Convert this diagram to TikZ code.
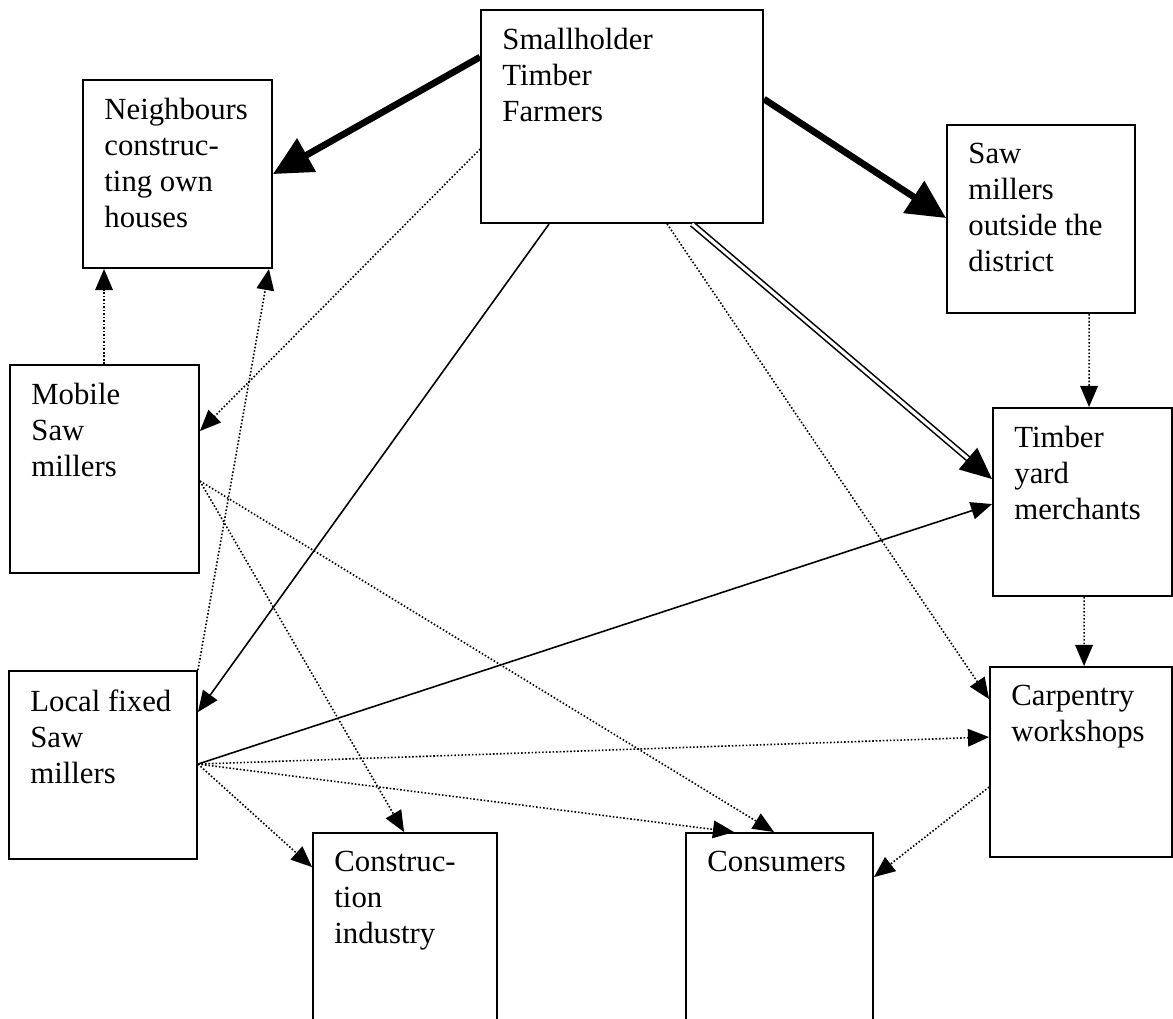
\documentclass[tikz,border=0pt]{standalone}
\usepackage{fontspec}
\setmainfont{Liberation Serif}
\usetikzlibrary{arrows.meta, calc}

\begin{document}
\begin{tikzpicture}[
  x=0.02cm, y=-0.02cm,
  box/.style={draw, line width=1.1pt, inner sep=0pt},
  txt/.style={anchor=north west, inner sep=0pt, align=left,
              font=\fontsize{17.5}{20.5}\selectfont},
  arr/.style={-{Triangle[length=12pt, width=10pt]}, line width=0.9pt},
  dots/.style={arr, dash pattern=on 0.9pt off 1.1pt},
  heavy/.style={-{Triangle[length=22pt, width=21pt]}, line width=3.8pt},
  dbl/.style={double, double distance=1.8pt, line width=0.9pt, shorten >=15pt},
  dbltip/.style={-{Triangle[length=18pt, width=16pt]}, line width=0.9pt},
]
  \useasboundingbox (0,0) rectangle (1173,1018);
  \clip (0,0) rectangle (1173,1018);

  %% ── Boxes ──
  \node[box, minimum width=5.64cm, minimum height=4.26cm] (farmers)      at (622, 116.5) {};
  \node[box, minimum width=3.78cm, minimum height=3.76cm] (neighbours)   at (177.5, 174) {};
  \node[box, minimum width=3.76cm, minimum height=3.76cm] (outside)      at (1041, 219) {};
  \node[box, minimum width=3.78cm, minimum height=4.16cm] (mobile)       at (104.5, 469) {};
  \node[box, minimum width=3.58cm, minimum height=3.76cm] (yard)         at (1082.5, 502) {};
  \node[box, minimum width=3.76cm, minimum height=3.76cm] (localmill)    at (103, 765) {};
  \node[box, minimum width=3.64cm, minimum height=3.80cm] (carpentry)    at (1081, 762) {};
  \node[box, minimum width=3.68cm, minimum height=4.14cm] (construction) at (405, 936.5) {};
  \node[box, minimum width=3.74cm, minimum height=4.14cm] (consumers)    at (779.5, 936.5) {};

  %% ── Box texts (top left) ──
  \node[txt] (farmers-t)      at ($(farmers.north west)+(22,19)$)      {Smallholder\\Timber\\Farmers};
  \node[txt] (neighbours-t)   at ($(neighbours.north west)+(22,19)$)   {Neighbours\\construc-\\ting own\\houses};
  \node[txt] (outside-t)      at ($(outside.north west)+(22,19)$)      {Saw\\millers\\outside the\\district};
  \node[txt] (mobile-t)       at ($(mobile.north west)+(22,19)$)       {Mobile\\Saw\\millers};
  \node[txt] (yard-t)         at ($(yard.north west)+(22,19)$)         {Timber\\yard\\merchants};
  \node[txt] (localmill-t)    at ($(localmill.north west)+(22,19)$)    {Local fixed\\Saw\\millers};
  \node[txt] (carpentry-t)    at ($(carpentry.north west)+(22,19)$)    {Carpentry\\workshops};
  \node[txt] (construction-t) at ($(construction.north west)+(22,19)$) {Construc-\\tion\\industry};
  \node[txt] (consumers-t)    at ($(consumers.north west)+(22,19)$)    {Consumers};

  %% ── Main flows from farmers ──
  \draw[heavy] ($(farmers.north west)+(0,48)$) -- ($(neighbours.north east)+(0,95)$);
  \draw[heavy] ($(farmers.north east)+(0,90)$) -- ($(outside.north west)+(0,94)$);

  \coordinate (dblA) at ($(farmers.south west)+(212,0)$);
  \coordinate (dblB) at ($(yard.north west)+(0,72)$);
  \draw[dbl] (dblA) -- (dblB);
  \draw[dbltip] ($(dblA)!0.95!(dblB)$) -- (dblB);

  \draw[arr]  ($(farmers.south west)+(69,0)$)  -- ($(localmill.north east)+(0,42)$);
  \draw[dots] ($(farmers.south west)+(187,0)$) -- ($(carpentry.north west)+(0,33)$);
  \draw[dots] ($(farmers.north west)+(0,140)$) -- ($(mobile.north east)+(0,67)$);

  %% ── Mobile saw millers ──
  \draw[dots] ($(mobile.north west)+(95,0)$)    -- ($(neighbours.south west)+(22,0)$);
  \draw[dots] ($(mobile.north east)+(0,117)$)   -- ($(construction.north west)+(92,0)$);
  \draw[dots] ($(mobile.north east)+(0,117)$)   -- ($(consumers.north west)+(89,0)$);

  %% ── Local fixed saw millers ──
  \draw[dots] (localmill.north east)            -- ($(neighbours.south east)+(-4,0)$);
  \draw[arr]  ($(localmill.north east)+(0,94)$) -- ($(yard.north west)+(0,97)$);
  \draw[dots] ($(localmill.north east)+(0,94)$) -- ($(carpentry.north west)+(0,71)$);
  \draw[dots] ($(localmill.north east)+(0,94)$) -- ($(consumers.north west)+(49,0)$);
  \draw[dots] ($(localmill.north east)+(0,94)$) -- ($(construction.north west)+(0,35)$);

  %% ── Right column ──
  \draw[dots] ($(outside.south west)+(143,0)$)  -- ($(yard.north west)+(97,0)$);
  \draw[dots] ($(yard.south west)+(92,0)$)      -- ($(carpentry.north west)+(95,0)$);
  \draw[dots] ($(carpentry.north west)+(0,121)$) -- ($(consumers.north east)+(0,45)$);
\end{tikzpicture}
\end{document}
